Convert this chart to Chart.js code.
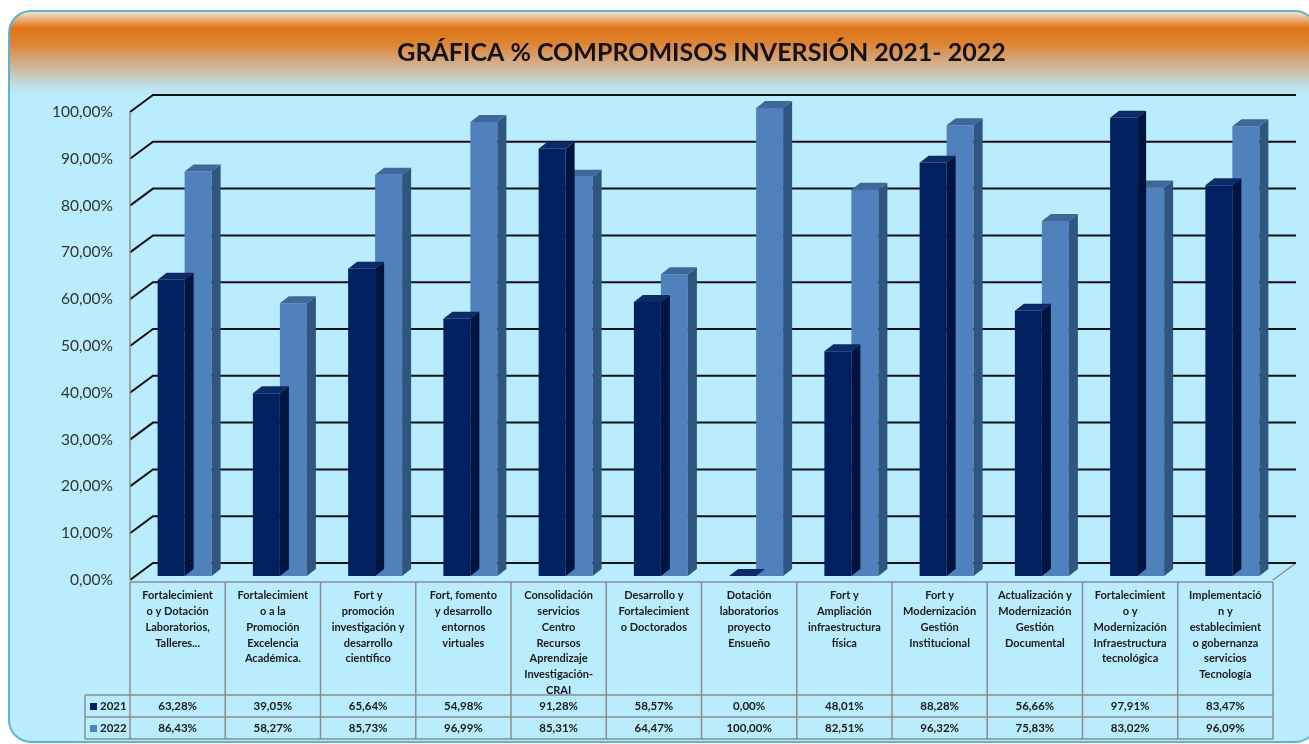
<!DOCTYPE html>
<html><head><meta charset="utf-8">
<script src="https://cdn.jsdelivr.net/npm/chart.js@4.4.1/dist/chart.umd.min.js"></script>
<style>html,body{margin:0;padding:0;background:#fff;}#wrap{width:1309px;height:744px;position:relative;}</style>
</head><body><div id="wrap"><canvas id="c"></canvas></div>
<script>
const titleText = 'GRÁFICA % COMPROMISOS INVERSIÓN 2021- 2022';
const categories = [
  ['Fortalecimient','o y Dotación','Laboratorios,','Talleres...'],
  ['Fortalecimient','o a la','Promoción','Excelencia','Académica.'],
  ['Fort y','promoción','investigación y','desarrollo','científico'],
  ['Fort, fomento','y desarrollo','entornos','virtuales'],
  ['Consolidación','servicios','Centro','Recursos','Aprendizaje','Investigación-','CRAI'],
  ['Desarrollo y','Fortalecimient','o Doctorados'],
  ['Dotación','laboratorios','proyecto','Ensueño'],
  ['Fort y','Ampliación','infraestructura','física'],
  ['Fort y','Modernización','Gestión','Institucional'],
  ['Actualización y','Modernización','Gestión','Documental'],
  ['Fortalecimient','o y','Modernización','Infraestructura','tecnológica'],
  ['Implementació','n y','establecimient','o gobernanza','servicios','Tecnología']
];
const seriesNames = ['2021', '2022'];
const values2021 = [63.28, 39.05, 65.64, 54.98, 91.28, 58.57, 0.00, 48.01, 88.28, 56.66, 97.91, 83.47];
const values2022 = [86.43, 58.27, 85.73, 96.99, 85.31, 64.47, 100.00, 82.51, 96.32, 75.83, 83.02, 96.09];
const yMin = 0, yMax = 100, yStep = 10;

const FONT = 'Lato, "Open Sans", "DejaVu Sans", sans-serif';
const FRONT = ['#002060', '#4f81bd'];
const SIDE = ['#001440', '#30557f'];
const TOP = ['#0b2a66', '#3e679a'];
const DEPTH = {dx: 23, dy: -17};
const BAR_SHIFT = {dx: 7, dy: -4};
const BAR_DEPTH = {dx: 9, dy: -7};
const GRID_GRAY = '#8c8c8c';

function fmt(v){ return v.toFixed(2).replace('.', ',') + '%'; }
function poly(ctx, pts){ ctx.beginPath(); ctx.moveTo(pts[0][0], pts[0][1]); for (let i=1;i<pts.length;i++) ctx.lineTo(pts[i][0], pts[i][1]); ctx.closePath(); ctx.fill(); }
function rrect(ctx, x, y, w, h, r){
  ctx.beginPath();
  ctx.moveTo(x+r, y); ctx.lineTo(x+w-r, y); ctx.arcTo(x+w, y, x+w, y+r, r);
  ctx.lineTo(x+w, y+h-r); ctx.arcTo(x+w, y+h, x+w-r, y+h, r);
  ctx.lineTo(x+r, y+h); ctx.arcTo(x, y+h, x, y+h-r, r);
  ctx.lineTo(x, y+r); ctx.arcTo(x, y, x+r, y, r); ctx.closePath();
}

const deco = {
  id: 'deco',
  beforeDraw(chart){
    const ctx = chart.ctx, W = chart.width, H = chart.height;
    ctx.save();
    ctx.fillStyle = '#ffffff'; ctx.fillRect(0, 0, W, H);
    const fx = 9, fy = 11, fw = W - fx + 8, fh = H - fy - 2, r = 22;
    rrect(ctx, fx, fy, fw, fh, r);
    ctx.save(); ctx.clip();
    ctx.fillStyle = '#b9edfd'; ctx.fillRect(fx, fy, fw, fh);
    const g = ctx.createLinearGradient(0, fy, 0, fy + 86);
    g.addColorStop(0, '#eef0ee');
    g.addColorStop(0.05, '#f0c9a4');
    g.addColorStop(0.2, '#e07516');
    g.addColorStop(0.38, '#de8433');
    g.addColorStop(0.55, '#d6a376');
    g.addColorStop(0.72, '#cbc3b0');
    g.addColorStop(0.87, '#bfe0ea');
    g.addColorStop(1, '#b9edfd');
    ctx.fillStyle = g; ctx.fillRect(fx, fy, fw, 87);
    ctx.restore();
    rrect(ctx, fx, fy, fw, fh, r);
    ctx.strokeStyle = '#5fb3cb'; ctx.lineWidth = 2; ctx.stroke();
    ctx.restore();
  },
  beforeDatasetsDraw(chart){
    const ctx = chart.ctx, a = chart.chartArea, ys = chart.scales.y;
    ctx.save();
    ctx.strokeStyle = GRID_GRAY; ctx.lineWidth = 1.5;
    ctx.beginPath(); ctx.moveTo(a.right, a.bottom); ctx.lineTo(a.right + DEPTH.dx, a.bottom + DEPTH.dy); ctx.stroke();
    ctx.strokeStyle = '#111'; ctx.lineWidth = 2;
    ys.ticks.forEach(t => {
      const py = ys.getPixelForValue(t.value);
      ctx.beginPath();
      ctx.moveTo(a.left, py);
      ctx.lineTo(a.left + DEPTH.dx, py + DEPTH.dy);
      ctx.lineTo(a.right + DEPTH.dx, py + DEPTH.dy);
      ctx.stroke();
    });
    ctx.strokeStyle = GRID_GRAY; ctx.lineWidth = 1.5;
    ctx.beginPath(); ctx.moveTo(a.left, a.top); ctx.lineTo(a.left, a.bottom); ctx.stroke();
    ctx.restore();
  },
  beforeDatasetDraw(chart){
    chart.ctx.save();
    chart.ctx.translate(BAR_SHIFT.dx, BAR_SHIFT.dy);
  },
  afterDatasetDraw(chart, args){
    const ctx = chart.ctx;
    const i = args.index;
    args.meta.data.forEach(bar => {
      const p = bar.getProps(['x', 'y', 'base', 'width'], true);
      const l = p.x - p.width/2, r = p.x + p.width/2;
      ctx.fillStyle = SIDE[i];
      poly(ctx, [[r, p.y], [r + BAR_DEPTH.dx, p.y + BAR_DEPTH.dy], [r + BAR_DEPTH.dx, p.base + BAR_DEPTH.dy], [r, p.base]]);
      ctx.fillStyle = TOP[i];
      poly(ctx, [[l, p.y], [l + BAR_DEPTH.dx, p.y + BAR_DEPTH.dy], [r + BAR_DEPTH.dx, p.y + BAR_DEPTH.dy], [r, p.y]]);
    });
    ctx.restore();
  },
  afterDraw(chart){
    const ctx = chart.ctx, a = chart.chartArea, xs = chart.scales.x;
    const n = categories.length;
    const colW = (a.right - a.left) / n;
    const headTop = a.bottom + 2;
    const rowTop = xs.bottom;
    const rowH = 22;
    const keyLeft = a.left - 45;
    const series = [values2021, values2022];
    ctx.save();
    ctx.strokeStyle = GRID_GRAY; ctx.lineWidth = 1.5;
    ctx.beginPath();
    ctx.moveTo(a.left, headTop); ctx.lineTo(a.right, headTop);
    for (let k = 0; k <= series.length; k++) {
      ctx.moveTo(keyLeft, rowTop + k*rowH); ctx.lineTo(a.right, rowTop + k*rowH);
    }
    for (let c = 0; c <= n; c++) {
      const bx = (c < n ? xs.getPixelForValue(c) - colW/2 : xs.getPixelForValue(n-1) + colW/2);
      ctx.moveTo(bx, headTop); ctx.lineTo(bx, rowTop + series.length*rowH);
    }
    ctx.moveTo(keyLeft, rowTop); ctx.lineTo(keyLeft, rowTop + series.length*rowH);
    ctx.stroke();
    ctx.font = 'bold 11.5px ' + FONT;
    ctx.textBaseline = 'middle';
    series.forEach((vals, k) => {
      const cy = rowTop + k*rowH + rowH/2 + 0.5;
      ctx.fillStyle = FRONT[k];
      ctx.fillRect(keyLeft + 5, cy - 3.5, 7, 7);
      ctx.fillStyle = '#1a1a1a';
      ctx.textAlign = 'left';
      ctx.fillText(seriesNames[k], keyLeft + 15, cy);
      ctx.textAlign = 'center';
      vals.forEach((v, c) => ctx.fillText(fmt(v), xs.getPixelForValue(c), cy));
    });
    ctx.restore();
  }
};

new Chart(document.getElementById('c'), {
  type: 'bar',
  data: {
    labels: categories,
    datasets: [
      {label: seriesNames[0], data: values2021, backgroundColor: FRONT[0], borderWidth: 0, clip: false},
      {label: seriesNames[1], data: values2022, backgroundColor: FRONT[1], borderWidth: 0, clip: false}
    ]
  },
  options: {
    responsive: true,
    maintainAspectRatio: false,
    animation: false,
    events: [],
    layout: {padding: {left: 0, right: 36, top: 0, bottom: 49}},
    datasets: {bar: {categoryPercentage: 0.567, barPercentage: 1}},
    plugins: {
      legend: {display: false},
      tooltip: {enabled: false},
      title: {
        display: true, text: titleText, fullSize: false, color: '#111',
        font: {family: FONT, size: 25, weight: 'bold', lineHeight: 1.2},
        padding: {top: 38, bottom: 44}
      }
    },
    scales: {
      x: {
        grid: {display: false, drawTicks: false},
        border: {display: false},
        ticks: {color: '#1a1a1a', font: {family: FONT, size: 11, weight: 'bold', lineHeight: 1.43}, padding: 8, autoSkip: false, maxRotation: 0, minRotation: 0},
        afterFit(s){ s.height = 115; }
      },
      y: {
        min: yMin, max: yMax,
        grid: {display: false, drawTicks: false},
        border: {display: false},
        ticks: {stepSize: yStep, color: '#333', font: {family: FONT, size: 15.5}, padding: 17, callback: v => fmt(v)},
        afterFit(s){ s.width = 130; }
      }
    }
  },
  plugins: [deco]
});
</script>
</body></html>
